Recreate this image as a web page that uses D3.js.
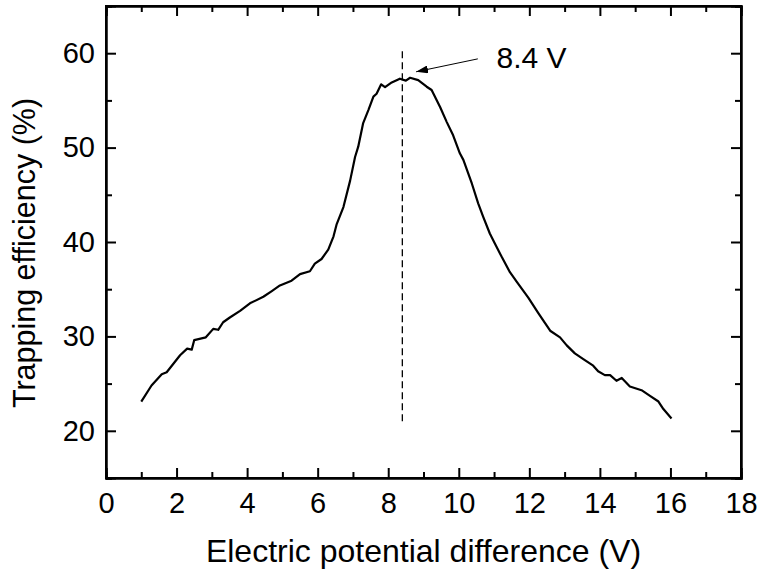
<!DOCTYPE html>
<html>
<head>
<meta charset="utf-8">
<script src="https://cdn.jsdelivr.net/npm/d3@7"></script>
<style>
  body { margin: 0; background: #fff; }
  svg text { font-family: Arial, "Liberation Sans", sans-serif; fill: #000; }
</style>
</head>
<body>
<div id="container"></div>
<script>
/**
 * DATA
 * */
const voltage = [
  1.00, 1.29, 1.58, 1.72, 1.91, 2.10, 2.30, 2.43, 2.50, 2.83, 3.04, 3.18, 3.32,
  3.51, 3.80, 4.08, 4.46, 4.70, 4.93, 5.26, 5.50, 5.78, 5.92, 6.11, 6.30, 6.45,
  6.54, 6.73, 6.92, 7.06, 7.15, 7.29, 7.44, 7.58, 7.67, 7.80, 7.91, 8.10, 8.33,
  8.50, 8.62, 8.85, 9.09, 9.23, 9.47, 9.66, 9.84, 10.03, 10.13, 10.37, 10.55,
  10.69, 10.88, 11.03, 11.22, 11.45, 11.64, 11.97, 12.25, 12.59, 12.87, 13.06,
  13.29, 13.53, 13.81, 13.95, 14.14, 14.29, 14.47, 14.62, 14.85, 15.18, 15.42,
  15.66, 15.80, 16.03
];
const efficiency = [
  23.1, 24.8, 26.0, 26.2, 27.1, 28.0, 28.7, 28.6, 29.6, 29.9, 30.8, 30.7, 31.5,
  32.0, 32.7, 33.5, 34.2, 34.8, 35.4, 35.9, 36.6, 36.9, 37.7, 38.2, 39.2, 40.6,
  41.9, 43.7, 46.5, 49.0, 50.1, 52.6, 54.0, 55.4, 55.7, 56.7, 56.4, 56.9, 57.3,
  57.1, 57.4, 57.15, 56.45, 56.1, 54.3, 52.7, 51.3, 49.4, 48.7, 46.2, 44.1,
  42.7, 40.9, 39.8, 38.4, 36.8, 35.8, 34.1, 32.5, 30.6, 29.9, 29.05,
  28.2, 27.6, 26.9, 26.3, 25.9, 25.9, 25.3, 25.6, 24.7, 24.3, 23.7,
  23.1, 22.3, 21.3
];

const xMajor = [0, 2, 4, 6, 8, 10, 12, 14, 16, 18];
const xMinor = [1, 3, 5, 7, 9, 11, 13, 15, 17];
const yMajor = [20, 30, 40, 50, 60];
const yMinor = [15, 25, 35, 45, 55, 65];

// peak marker and annotation (data units)
const peakV = 8.4;
const peakLine = [21, 60.5];
const arrowFrom = [10.54, 59.4];
const arrowTo = [8.79, 58.03];
const labelAt = [11.07, 58.4];
const peakLabel = "8.4 V";

const xTitle = "Electric potential difference (V)";
const yTitle = "Trapping efficiency (%)";

/**
 * CONSTANTS
 * */
const W = 759, H = 573,
  margin = { top: 6, right: 18, bottom: 95, left: 106 };
const innerW = W - margin.left - margin.right,
  innerH = H - margin.top - margin.bottom;

const svg = d3.select("#container")
  .append("svg")
  .attr("width", W)
  .attr("height", H);

const g = svg.append("g")
  .attr("transform", `translate(${margin.left},${margin.top})`);

const x = d3.scaleLinear().domain([0, 18]).range([0, innerW]);
const y = d3.scaleLinear().domain([15, 65]).range([innerH, 0]);

// axes: labels only on bottom/left, ticks inward on all sides
function styleAxis(sel) {
  sel.selectAll("path.domain").attr("stroke-width", 2);
  sel.selectAll(".tick line").attr("stroke-width", 2);
  sel.selectAll("text").attr("font-size", 29).attr("font-family", "Arial, 'Liberation Sans', sans-serif");
}

g.append("g").attr("transform", `translate(0,${innerH})`)
  .call(d3.axisBottom(x).tickValues(xMajor).tickSize(-10).tickPadding(14).tickFormat(d3.format("d")))
  .call(styleAxis);
g.append("g").attr("transform", `translate(0,${innerH})`)
  .call(d3.axisBottom(x).tickValues(xMinor).tickSize(-6).tickFormat(""))
  .call(styleAxis);
g.append("g")
  .call(d3.axisTop(x).tickValues(xMajor).tickSize(-10).tickFormat(""))
  .call(styleAxis);
g.append("g")
  .call(d3.axisTop(x).tickValues(xMinor).tickSize(-6).tickFormat(""))
  .call(styleAxis);

g.append("g")
  .call(d3.axisLeft(y).tickValues(yMajor).tickSize(-10).tickPadding(11).tickFormat(d3.format("d")))
  .call(styleAxis);
g.append("g")
  .call(d3.axisLeft(y).tickValues(yMinor).tickSize(-6).tickFormat(""))
  .call(styleAxis);
g.append("g").attr("transform", `translate(${innerW},0)`)
  .call(d3.axisRight(y).tickValues(yMajor).tickSize(-10).tickFormat(""))
  .call(styleAxis);
g.append("g").attr("transform", `translate(${innerW},0)`)
  .call(d3.axisRight(y).tickValues(yMinor).tickSize(-6).tickFormat(""))
  .call(styleAxis);

// frame
g.append("rect")
  .attr("width", innerW).attr("height", innerH)
  .attr("fill", "none").attr("stroke", "#000").attr("stroke-width", 2);

// curve
const points = voltage.map((v, i) => [v, efficiency[i]]);
g.append("path")
  .datum(points)
  .attr("fill", "none")
  .attr("stroke", "#000")
  .attr("stroke-width", 2.2)
  .attr("stroke-linejoin", "round")
  .attr("d", d3.line().x(d => x(d[0])).y(d => y(d[1])));

// dashed peak line
g.append("line")
  .attr("x1", x(peakV)).attr("x2", x(peakV))
  .attr("y1", y(peakLine[0])).attr("y2", y(peakLine[1]))
  .attr("stroke", "#000").attr("stroke-width", 1.3)
  .attr("stroke-dasharray", "7,4");

// arrow
svg.append("defs").append("marker")
  .attr("id", "arrow")
  .attr("viewBox", "0 0 12 8")
  .attr("refX", 12).attr("refY", 4)
  .attr("markerWidth", 12).attr("markerHeight", 8)
  .attr("markerUnits", "userSpaceOnUse")
  .attr("orient", "auto")
  .append("path")
  .attr("d", "M0,0L12,4L0,8Z")
  .attr("fill", "#000");

g.append("line")
  .attr("x1", x(arrowFrom[0])).attr("y1", y(arrowFrom[1]))
  .attr("x2", x(arrowTo[0])).attr("y2", y(arrowTo[1]))
  .attr("stroke", "#000").attr("stroke-width", 1)
  .attr("marker-end", "url(#arrow)");

g.append("text")
  .attr("x", x(labelAt[0])).attr("y", y(labelAt[1]))
  .attr("font-size", 30)
  .text(peakLabel);

// axis titles
svg.append("text")
  .attr("x", margin.left + innerW / 2)
  .attr("y", 562)
  .attr("text-anchor", "middle")
  .attr("font-size", 32)
  .text(xTitle);

svg.append("text")
  .attr("transform", `translate(35,253) rotate(-90)`)
  .attr("text-anchor", "middle")
  .attr("font-size", 30.5)
  .text(yTitle);
</script>
</body>
</html>
